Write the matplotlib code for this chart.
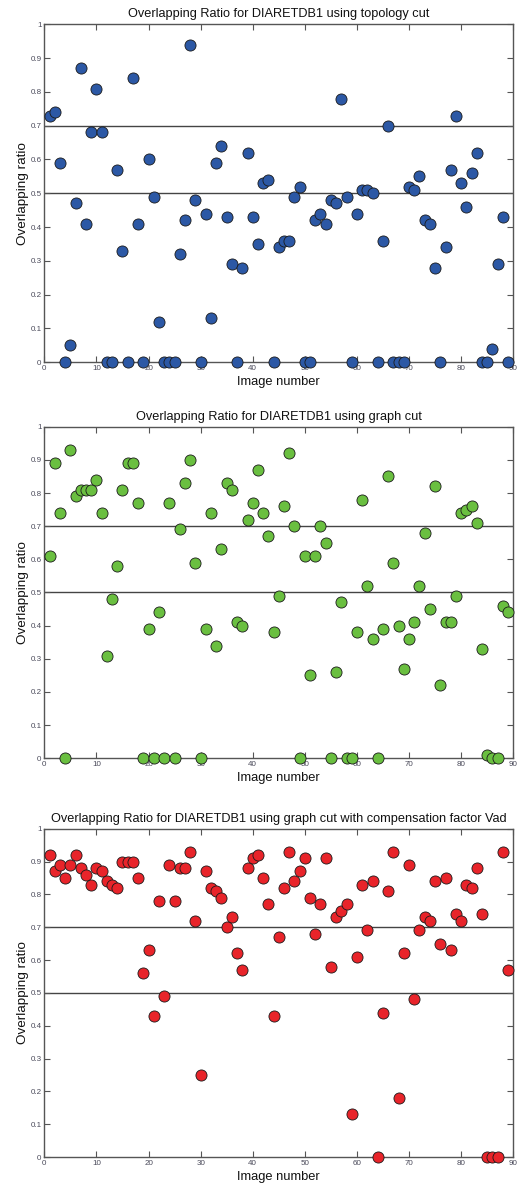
import matplotlib
matplotlib.use("Agg")
import matplotlib.pyplot as plt
import numpy as np

plt.rcParams['font.family'] = ['Liberation Sans', 'DejaVu Sans']

image_numbers = list(range(1, 90))

topology_cut = [0.73, 0.74, 0.59, 0.00, 0.05, 0.47, 0.87, 0.41, 0.68, 0.81,
                0.68, 0.00, 0.00, 0.57, 0.33, 0.00, 0.84, 0.41, 0.00, 0.60,
                0.49, 0.12, 0.00, 0.00, 0.00, 0.32, 0.42, 0.94, 0.48, 0.00,
                0.44, 0.13, 0.59, 0.64, 0.43, 0.29, 0.00, 0.28, 0.62, 0.43,
                0.35, 0.53, 0.54, 0.00, 0.34, 0.36, 0.36, 0.49, 0.52, 0.00,
                0.00, 0.42, 0.44, 0.41, 0.48, 0.47, 0.78, 0.49, 0.00, 0.44,
                0.51, 0.51, 0.50, 0.00, 0.36, 0.70, 0.00, 0.00, 0.00, 0.52,
                0.51, 0.55, 0.42, 0.41, 0.28, 0.00, 0.34, 0.57, 0.73, 0.53,
                0.46, 0.56, 0.62, 0.00, 0.00, 0.04, 0.29, 0.43, 0.00]

graph_cut = [0.61, 0.89, 0.74, 0.00, 0.93, 0.79, 0.81, 0.81, 0.81, 0.84,
             0.74, 0.31, 0.48, 0.58, 0.81, 0.89, 0.89, 0.77, 0.00, 0.39,
             0.00, 0.44, 0.00, 0.77, 0.00, 0.69, 0.83, 0.90, 0.59, 0.00,
             0.39, 0.74, 0.34, 0.63, 0.83, 0.81, 0.41, 0.40, 0.72, 0.77,
             0.87, 0.74, 0.67, 0.38, 0.49, 0.76, 0.92, 0.70, 0.00, 0.61,
             0.25, 0.61, 0.70, 0.65, 0.00, 0.26, 0.47, 0.00, 0.00, 0.38,
             0.78, 0.52, 0.36, 0.00, 0.39, 0.85, 0.59, 0.40, 0.27, 0.36,
             0.41, 0.52, 0.68, 0.45, 0.82, 0.22, 0.41, 0.41, 0.49, 0.74,
             0.75, 0.76, 0.71, 0.33, 0.01, 0.00, 0.00, 0.46, 0.44]

graph_cut_vad = [0.92, 0.87, 0.89, 0.85, 0.89, 0.92, 0.88, 0.86, 0.83, 0.88,
                 0.87, 0.84, 0.83, 0.82, 0.90, 0.90, 0.90, 0.85, 0.56, 0.63,
                 0.43, 0.78, 0.49, 0.89, 0.78, 0.88, 0.88, 0.93, 0.72, 0.25,
                 0.87, 0.82, 0.81, 0.79, 0.70, 0.73, 0.62, 0.57, 0.88, 0.91,
                 0.92, 0.85, 0.77, 0.43, 0.67, 0.82, 0.93, 0.84, 0.87, 0.91,
                 0.79, 0.68, 0.77, 0.91, 0.58, 0.73, 0.75, 0.77, 0.13, 0.61,
                 0.83, 0.69, 0.84, 0.00, 0.44, 0.81, 0.93, 0.18, 0.62, 0.89,
                 0.48, 0.69, 0.73, 0.72, 0.84, 0.65, 0.85, 0.63, 0.74, 0.72,
                 0.83, 0.82, 0.88, 0.74, 0.00, 0.00, 0.00, 0.93, 0.57]

titles = ["Overlapping Ratio for DIARETDB1 using topology cut",
          "Overlapping Ratio for DIARETDB1 using graph cut",
          "Overlapping Ratio for DIARETDB1 using graph cut with compensation factor Vad"]
colors = ["#2C58A5", "#6ABF40", "#E8242A"]
series = [topology_cut, graph_cut, graph_cut_vad]
x_ticks = list(range(0, 91, 10))
y_ticks = [0, 0.1, 0.2, 0.3, 0.4, 0.5, 0.6, 0.7, 0.8, 0.9, 1]
y_tick_labels = ["0", "0.1", "0.2", "0.3", "0.4", "0.5", "0.6", "0.7", "0.8", "0.9", "1"]
ref_levels = [0.5, 0.7]

W, H = 520, 1186
fig = plt.figure(figsize=(W / 100, H / 100), dpi=100)

left_px, right_px = 44.3, 513.3
boxes = [(24.3, 362.3), (426.7, 758.3), (828.7, 1157.0)]

spine_c = "#555555"
for (top, bot), title, col, vals in zip(boxes, titles, colors, series):
    ax = fig.add_axes([left_px / W, 1 - bot / H, (right_px - left_px) / W, (bot - top) / H])
    for lvl in ref_levels:
        ax.axhline(lvl, color="#444444", lw=1.0, zorder=1)
    ax.scatter(image_numbers, vals, s=64, c=col, edgecolors="#1a1a1a",
               linewidths=0.6, zorder=3, clip_on=False)
    ax.set_xlim(0, 90)
    ax.set_ylim(0, 1)
    ax.set_xticks(x_ticks)
    ax.set_yticks(y_ticks)
    ax.set_yticklabels(y_tick_labels)
    ax.tick_params(direction="in", top=True, right=True, length=4, width=0.8,
                   color=spine_c, labelsize=5.8, labelcolor="#4a4a5a", pad=2)
    for sp in ax.spines.values():
        sp.set_color(spine_c)
        sp.set_linewidth(1.0)
    ax.set_title(title, fontsize=9.2, color="#111111", pad=5)
    ax.set_xlabel("Image number", fontsize=9.3, color="#111111", labelpad=3)
    ax.set_ylabel("Overlapping ratio", fontsize=9.7, color="#111111", labelpad=1)

fig.savefig("out.png", dpi=100, facecolor="white")
